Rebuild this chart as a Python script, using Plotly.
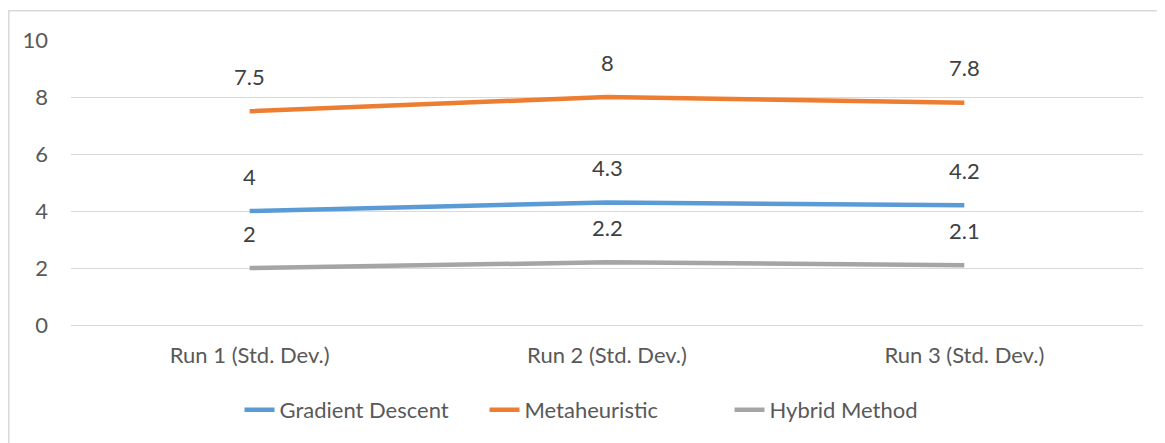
import plotly.graph_objects as go

categories = ["Run 1 (Std. Dev.)", "Run 2 (Std. Dev.)", "Run 3 (Std. Dev.)"]
gradient_descent = [4, 4.3, 4.2]
metaheuristic = [7.5, 8, 7.8]
hybrid_method = [2, 2.2, 2.1]
y_ticks = [0, 2, 4, 6, 8, 10]

series = [
    ("Gradient Descent", gradient_descent, "#5B9BD5"),
    ("Metaheuristic", metaheuristic, "#ED7D31"),
    ("Hybrid Method", hybrid_method, "#A5A5A5"),
]

FONT = "Lato, 'Open Sans', sans-serif"
FS = 22

fig = go.Figure()
annotations = []
for name, vals, color in series:
    fig.add_trace(go.Scatter(
        x=categories, y=vals, name=name, mode="lines",
        line=dict(color=color, width=4.5),
    ))
    for c, v in zip(categories, vals):
        annotations.append(dict(
            x=c, y=v, xref="x", yref="y", text=f"{v:g}", showarrow=False,
            yshift=35, font=dict(family=FONT, size=FS, color="#404040"),
        ))

fig.update_layout(
    width=1165, height=443,
    margin=dict(l=63, r=30, t=31.5, b=126),
    paper_bgcolor="white", plot_bgcolor="white",
    font=dict(family=FONT, size=FS, color="#595959"),
    showlegend=True,
    legend=dict(orientation="h", x=0.5, xanchor="center", y=-0.298, yanchor="middle",
                font=dict(family=FONT, size=FS, color="#595959"),
                tracegroupgap=0, entrywidth=200, entrywidthmode="pixels"),
    annotations=annotations,
    shapes=[dict(type="rect", xref="paper", yref="paper",
                 x0=-0.058, x1=1.03, y0=-0.45, y1=1.103,
                 line=dict(color="#D9D9D9", width=1.5), fillcolor="rgba(0,0,0,0)", layer="below")],
)
fig.update_xaxes(range=[-0.5, 2.5], showgrid=False, showline=False, zeroline=False, ticks="",
                 tickfont=dict(family=FONT, size=FS, color="#595959"),
                 ticklabelstandoff=15)
fig.update_yaxes(range=[0, 10], tickvals=y_ticks, showgrid=True, gridcolor="#D9D9D9",
                 gridwidth=1.3, zeroline=True, zerolinecolor="#D9D9D9", zerolinewidth=1.3,
                 showline=False, ticks="",
                 tickfont=dict(family=FONT, size=FS, color="#595959"),
                 ticklabelstandoff=22)

fig.write_html("out.html")
